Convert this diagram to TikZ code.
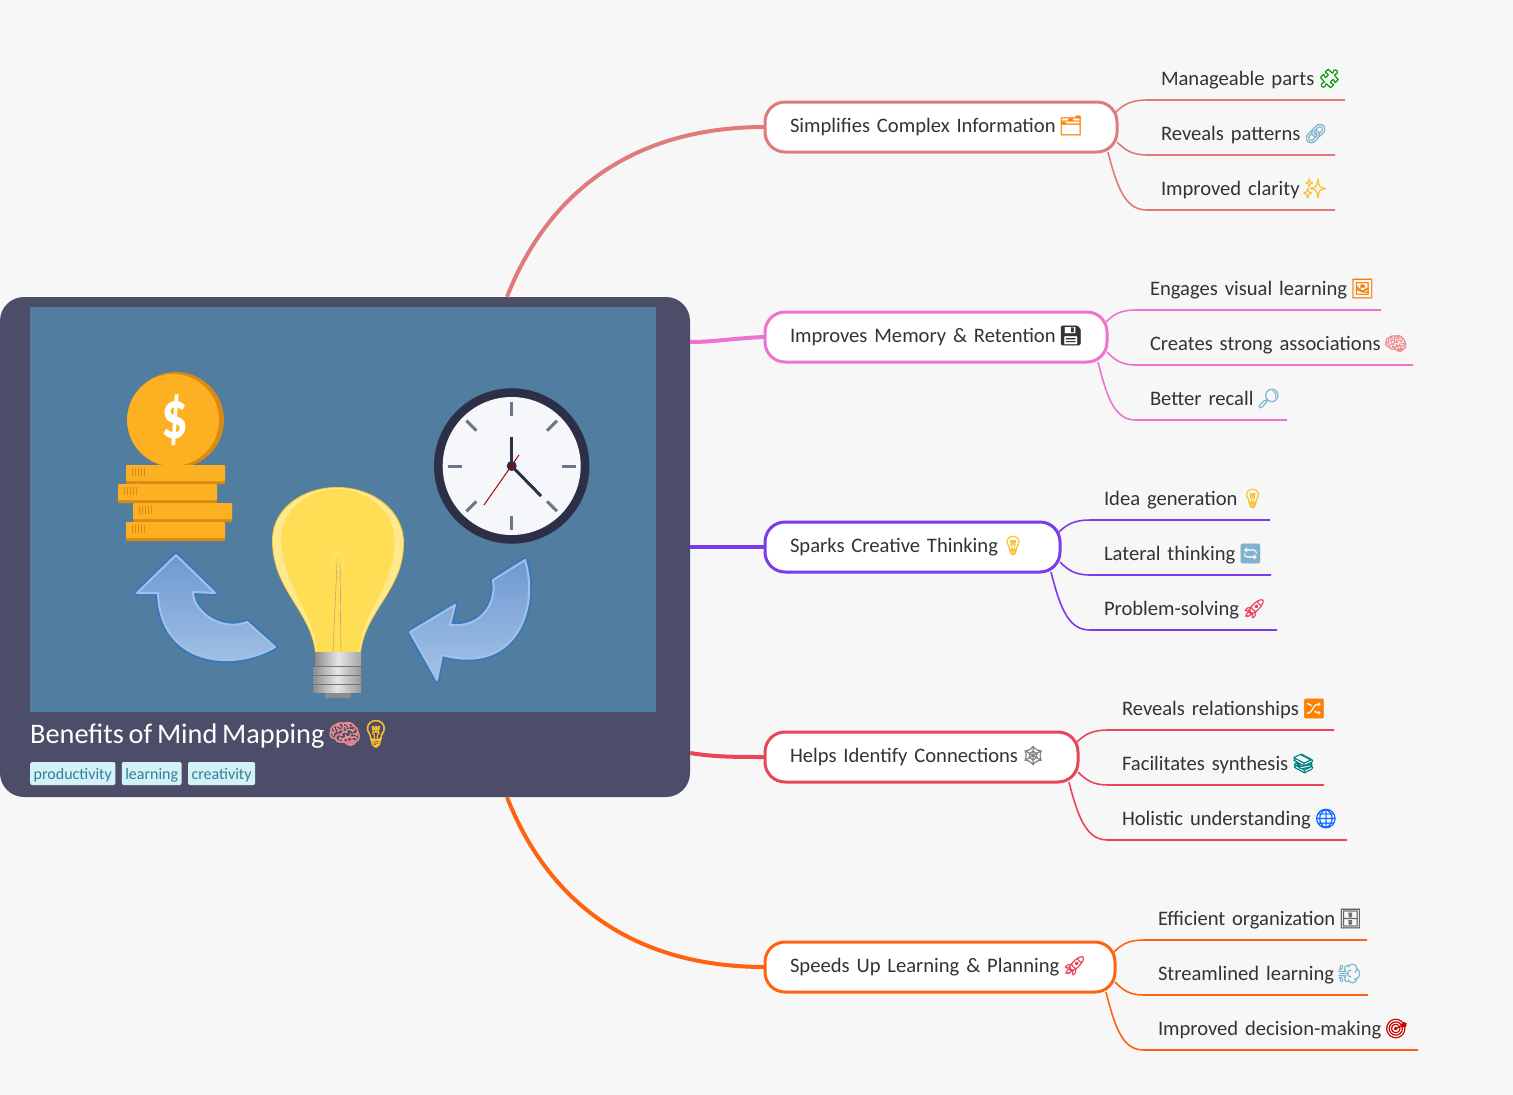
\documentclass[tikz,border=0pt]{standalone}
\usepackage{fontspec}
\setmainfont[WordSpace=0.75]{Carlito}
\newfontfamily\emojifont[FakeBold=1.6]{Noto Emoji}
\usetikzlibrary{positioning}
\definecolor{pagebg}{HTML}{F7F7F7}
\definecolor{rootbg}{HTML}{4C4E69}
\definecolor{picbg}{HTML}{517DA1}
\definecolor{tagbg}{HTML}{D5F1F8}
\definecolor{tagfg}{HTML}{2F7F96}
\definecolor{inktext}{HTML}{333333}
\definecolor{colS}{HTML}{E07B7B}
\definecolor{colM}{HTML}{EE72D2}
\definecolor{colC}{HTML}{7C3AED}
\definecolor{colH}{HTML}{E8455A}
\definecolor{colL}{HTML}{FF6310}
\definecolor{coinA}{HTML}{FDB022}
\definecolor{coinB}{HTML}{D98A12}
\definecolor{arrowA}{HTML}{3778BE}
\definecolor{arrowB}{HTML}{A4C2E6}
\definecolor{arrowC}{HTML}{6E9AD2}
\definecolor{bulbA}{HTML}{FFDD55}
\definecolor{bulbB}{HTML}{FFE98F}
\definecolor{bulbC}{HTML}{F3C93E}
\definecolor{clockA}{HTML}{2C2F45}
\definecolor{clockB}{HTML}{F5F7FB}
\definecolor{clockC}{HTML}{6B7688}
\definecolor{emoYellow}{HTML}{FBC02D}
\definecolor{emoPink}{HTML}{EE8F8F}
\definecolor{emoBlue}{HTML}{7FB2CC}
\newcommand{\lbl}[3]{\mbox{#1\hspace{3pt}\textcolor{#2}{\fontsize{19}{24}\selectfont\emojifont #3}}}
\begin{document}
\begin{tikzpicture}[x=1pt,y=-1pt,
            rootbox/.style={fill=rootbg, rounded corners=24pt, inner sep=0pt, minimum width=690pt, minimum height=500pt},
            branch/.style={draw, fill=white, line width=3pt, rounded corners=20pt, anchor=west, outer sep=0pt, inner xsep=25pt, inner ysep=0pt, minimum height=50pt, text height=16pt, text depth=6pt, text width=#1, align=left, text=inktext, font=\fontsize{20.6}{24}\selectfont},
            leaf/.style={anchor=south west, outer sep=0pt, inner xsep=14pt, inner ysep=10pt, text height=15pt, text depth=5pt, text width=#1, align=left, text=inktext, font=\fontsize{20.6}{24}\selectfont},
            tag/.style={fill=tagbg, text=tagfg, rounded corners=2pt, anchor=west, inner xsep=3.5pt, inner ysep=0pt, minimum height=23pt, text height=14pt, text depth=2pt, font=\fontsize{16}{18}\selectfont},
            stem/.style={line width=4pt},
            twig/.style={line width=1.6pt},
            swoop/.style={draw=arrowB, line width=2pt, line join=round, top color=arrowC, bottom color=arrowB},
            swoopedge/.style={draw=arrowA, line width=6pt, line join=round}]
        \useasboundingbox (0,0) rectangle (1513,1095);
        \fill[pagebg] (0,0) rectangle (1513,1095);

        \node[rootbox] (root) at (345,547) {};
        \node[fill=picbg, inner sep=0pt, minimum width=626pt, minimum height=405pt] (pic) at (343,509.5) {};

        % coin and stack
        \fill[coinB] (176,420) circle (48);
        \fill[coinA] (173,420) circle (46);
        \node[text=white, inner sep=0pt, font=\bfseries\fontsize{68}{68}\selectfont] (dollar) at (175,420) {\scalebox{.78}[1]{\$}};
        \foreach \bx/\by in {126/465, 118/484, 133/503, 126/522} {
            \fill[coinB, rounded corners=1pt] (\bx,\by) rectangle (\bx+99,\by+19);
            \fill[coinA, rounded corners=1pt] (\bx,\by) rectangle (\bx+99,\by+16);
            \foreach \k in {0,3,6,9,12}
                \draw[coinB, line width=.8pt] (\bx+6+\k,\by+3) -- (\bx+6+\k,\by+11);
        }

        % arrows
        \path[swoopedge] (176,555) -- (215,593) -- (193,592) .. controls (193,612) and (222,632) .. (247,622) -- (275,647) .. controls (233,672) and (160,665) .. (158,593) -- (137,593) -- cycle;
        \path[swoop] (176,555) -- (215,593) -- (193,592) .. controls (193,612) and (222,632) .. (247,622) -- (275,647) .. controls (233,672) and (160,665) .. (158,593) -- (137,593) -- cycle;
        \path[swoopedge] (525,560) .. controls (540,610) and (515,675) .. (442,655) -- (437,680) -- (410,632) -- (455,605) -- (450,625) .. controls (480,628) and (497,605) .. (493,580) -- cycle;
        \path[swoop] (525,560) .. controls (540,610) and (515,675) .. (442,655) -- (437,680) -- (410,632) -- (455,605) -- (450,625) .. controls (480,628) and (497,605) .. (493,580) -- cycle;

        % bulb
        \fill[bulbC] (315,652) .. controls (310,610) and (272,590) .. (272,540) .. controls (272,508) and (303,487) .. (337,487) .. controls (373,487) and (404,510) .. (404,543) .. controls (404,590) and (366,610) .. (361,652) -- cycle;
        \fill[bulbB] (316,652) .. controls (311,610) and (273,590) .. (273,540) .. controls (273,509) and (304,488) .. (337,488) .. controls (372,488) and (403,511) .. (403,543) .. controls (403,590) and (365,610) .. (360,652) -- cycle;
        \fill[bulbA] (317,652) .. controls (314,612) and (284,590) .. (281,540) .. controls (281,512) and (306,489) .. (337,489) .. controls (368,489) and (395,512) .. (395,543) .. controls (392,590) and (362,612) .. (359,652) -- cycle;
        \draw[bulbB, line width=.6pt] (338,561) ellipse (6 and 9);
        \draw[black!40, line width=.4pt] (333,652) -- (337,563) (341,652) -- (340,563);
        \fill[black!55] (315,660) rectangle (361,692);
        \fill[black!45] (325,692) rectangle (351,698);
        \shade[left color=black!45, right color=black!35, middle color=white!90!black] (315,652) rectangle (361,665);
        \foreach \ty in {667,676,685}
            \shade[left color=black!45, right color=black!40, middle color=white!90!black] (313,\ty) rectangle (361,\ty+7);

        % clock
        \fill[clockA] (511.7,466) circle (77.7);
        \fill[clockB] (511.7,466) circle (69);
        \foreach \ang in {0,45,...,315}
            \draw[clockC, line width=3pt] ([shift={(\ang:50)}]511.7,466) -- ([shift={(\ang:64)}]511.7,466);
        \draw[clockA, line width=3pt] (511.7,466) -- (511.7,437);
        \draw[clockA, line width=3pt] (511.7,466) -- (541,496);
        \draw[red!70!black, line width=1pt] (484,505) -- (519,455);
        \fill[clockA] (511.7,466) circle (5);
        \fill[red!60!black] (511.7,466) circle (2);

        \node[anchor=base west, inner sep=0pt, text=white, font=\fontsize{28.3}{32}\selectfont] (title) at (30,743) {\mbox{Benefits of Mind Mapping\hspace{3pt}\textcolor{emoPink}{\fontsize{27}{32}\selectfont\emojifont 🧠}\hspace{-3pt}\textcolor{emoYellow}{\fontsize{27}{32}\selectfont\emojifont 💡}}};
        \node[tag] (t1) at (30,773.5) {productivity};
        \node[tag, right=6pt of t1] (t2) {learning};
        \node[tag, right=6pt of t2] (t3) {creativity};

        \node[branch=302pt, draw=colS] (S) at (765,127) {\lbl{Simplifies Complex Information}{orange}{🗂}};
        \node[branch=292pt, draw=colM] (M) at (765,337) {\lbl{Improves Memory \& Retention}{inktext}{💾}};
        \node[branch=245pt, draw=colC] (C) at (765,547) {\lbl{Sparks Creative Thinking}{emoYellow}{💡}};
        \node[branch=263pt, draw=colH] (H) at (765,757) {\lbl{Helps Identify Connections}{black!50}{🕸}};
        \node[branch=300pt, draw=colL] (L) at (765,967) {\lbl{Speeds Up Learning \& Planning}{colH}{🚀}};

        \node[leaf=170pt] (S1) at (1147,100) {\lbl{Manageable parts}{green!60!black}{🧩}};
        \node[leaf=160pt] (S2) at (1147,155) {\lbl{Reveals patterns}{emoBlue}{🔗}};
        \node[leaf=160pt] (S3) at (1147,210) {\lbl{Improved clarity}{emoYellow}{✨}};
        \node[leaf=217pt] (M1) at (1136,310) {\lbl{Engages visual learning}{orange!80!brown}{🖼}};
        \node[leaf=249pt] (M2) at (1136,365) {\lbl{Creates strong associations}{emoPink}{🧠}};
        \node[leaf=123pt] (M3) at (1136,420) {\lbl{Better recall}{emoBlue}{🔎}};
        \node[leaf=152pt] (C1) at (1090,520) {\lbl{Idea generation}{emoYellow}{💡}};
        \node[leaf=153pt] (C2) at (1090,575) {\lbl{Lateral thinking}{emoBlue}{🔄}};
        \node[leaf=159pt] (C3) at (1090,630) {\lbl{Problem-solving}{colH}{🚀}};
        \node[leaf=198pt] (H1) at (1108,730) {\lbl{Reveals relationships}{orange}{🔀}};
        \node[leaf=188pt] (H2) at (1108,785) {\lbl{Facilitates synthesis}{teal}{📚}};
        \node[leaf=211pt] (H3) at (1108,840) {\lbl{Holistic understanding}{blue!60!cyan}{🌐}};
        \node[leaf=195pt] (L1) at (1144,940) {\lbl{Efficient organization}{black!60}{🗄}};
        \node[leaf=196pt] (L2) at (1144,995) {\lbl{Streamlined learning}{emoBlue}{💨}};
        \node[leaf=246pt] (L3) at (1144,1050) {\lbl{Improved decision-making}{red!80!black}{🎯}};

        \draw[stem, colS] ([xshift=162pt]root.north) .. controls (545,200) and (625,127) .. (S.west);
        \draw[stem, colM] ([yshift=205pt]root.east) .. controls (715,342) and (735,338) .. (M.west);
        \draw[stem, colC] (root.east) -- (C.west);
        \draw[stem, colH] ([yshift=-206pt]root.east) .. controls (715,757) and (735,757) .. (H.west);
        \draw[stem, colL] ([xshift=162pt]root.south) .. controls (545,894) and (625,967) .. (L.west);

        \draw[twig, colS] ([shift={(-1,10)}]S.north east) .. controls +(8,-8) and +(-15,0) .. (S1.south west) -- (S1.south east);
        \draw[twig, colS] ([shift={(0,-10)}]S.south east) .. controls +(8,8) and +(-15,0) .. (S2.south west) -- (S2.south east);
        \draw[twig, colS] ([shift={(-9,0)}]S.south east) .. controls +(10,40) and +(-20,0) .. (S3.south west) -- (S3.south east);
        \draw[twig, colM] ([shift={(-1,10)}]M.north east) .. controls +(8,-8) and +(-15,0) .. (M1.south west) -- (M1.south east);
        \draw[twig, colM] ([shift={(0,-10)}]M.south east) .. controls +(8,8) and +(-15,0) .. (M2.south west) -- (M2.south east);
        \draw[twig, colM] ([shift={(-9,0)}]M.south east) .. controls +(10,40) and +(-20,0) .. (M3.south west) -- (M3.south east);
        \draw[twig, colC] ([shift={(-1,10)}]C.north east) .. controls +(8,-8) and +(-15,0) .. (C1.south west) -- (C1.south east);
        \draw[twig, colC] ([shift={(0,-10)}]C.south east) .. controls +(8,8) and +(-15,0) .. (C2.south west) -- (C2.south east);
        \draw[twig, colC] ([shift={(-9,0)}]C.south east) .. controls +(10,40) and +(-20,0) .. (C3.south west) -- (C3.south east);
        \draw[twig, colH] ([shift={(-1,10)}]H.north east) .. controls +(8,-8) and +(-15,0) .. (H1.south west) -- (H1.south east);
        \draw[twig, colH] ([shift={(0,-10)}]H.south east) .. controls +(8,8) and +(-15,0) .. (H2.south west) -- (H2.south east);
        \draw[twig, colH] ([shift={(-9,0)}]H.south east) .. controls +(10,40) and +(-20,0) .. (H3.south west) -- (H3.south east);
        \draw[twig, colL] ([shift={(-1,10)}]L.north east) .. controls +(8,-8) and +(-15,0) .. (L1.south west) -- (L1.south east);
        \draw[twig, colL] ([shift={(0,-10)}]L.south east) .. controls +(8,8) and +(-15,0) .. (L2.south west) -- (L2.south east);
        \draw[twig, colL] ([shift={(-9,0)}]L.south east) .. controls +(10,40) and +(-20,0) .. (L3.south west) -- (L3.south east);
\end{tikzpicture}
\end{document}
